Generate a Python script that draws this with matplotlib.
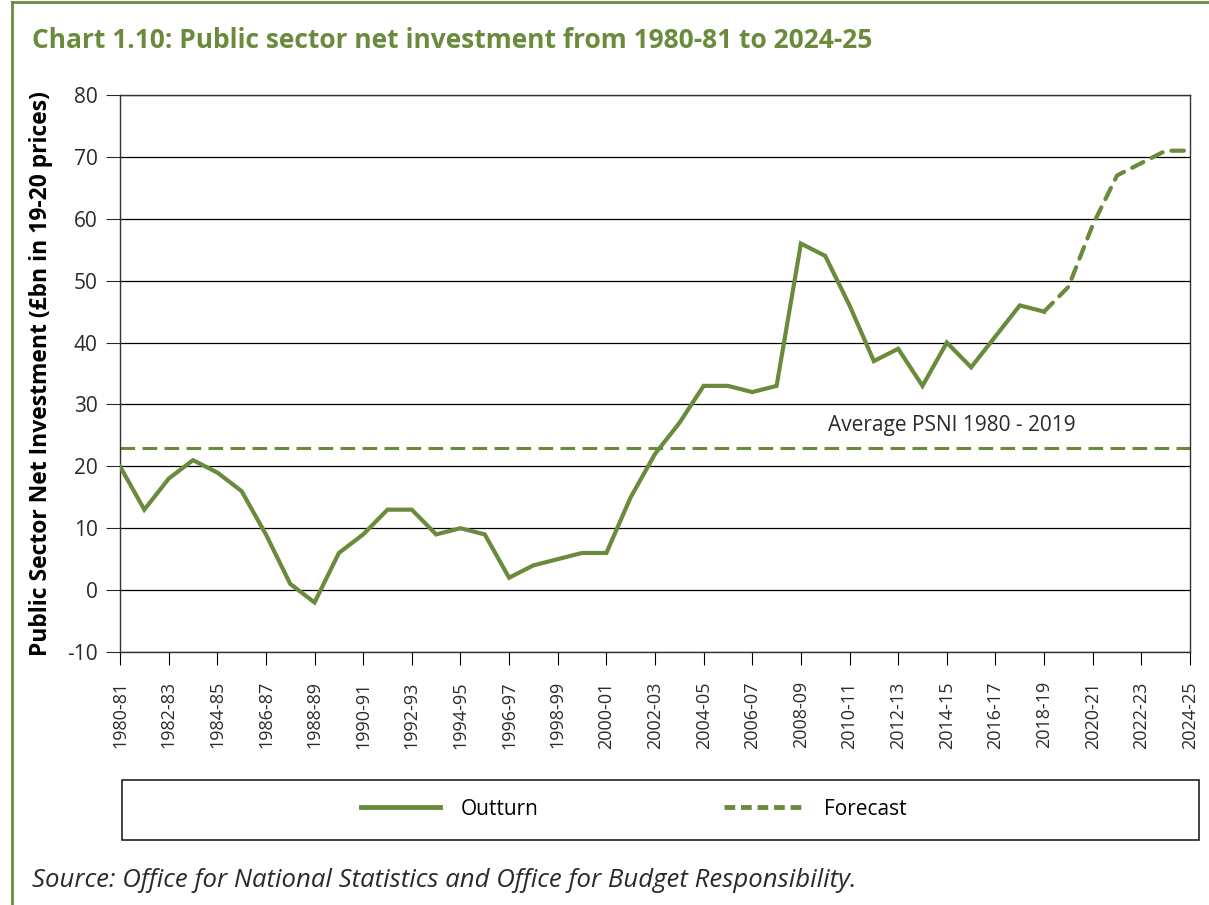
import numpy as np
import matplotlib.pyplot as plt
from matplotlib.patches import Rectangle
from matplotlib.lines import Line2D

# financial years 1980-81 .. 2024-25
years = ["%d-%02d" % (y, (y + 1) % 100) for y in range(1980, 2025)]

outturn = [20, 13, 18, 21, 19, 16, 9, 1, -2, 6, 9, 13, 13, 9, 10, 9, 2, 4, 5, 6,
           6, 15, 22, 27, 33, 33, 32, 33, 56, 54, 46, 37, 39, 33, 40, 36, 41, 46, 45]
forecast = [45, 49, 59, 67, 69, 71, 71]
average_psni = 23

green = "#6a8a3c"
text_col = "#2a2a2a"
plt.rcParams['font.family'] = ['Open Sans', 'DejaVu Sans']
plt.rcParams['axes.unicode_minus'] = False

fig = plt.figure(figsize=(12.09, 9.05), dpi=100)
ax = fig.add_axes([120 / 1209, 1 - 652 / 905, 1070 / 1209, 557 / 905])

x_out = np.arange(len(outturn))
x_fc = np.arange(len(outturn) - 1, len(outturn) - 1 + len(forecast))

ax.plot(x_out, outturn, color=green, lw=3, solid_joinstyle='miter', zorder=3)
ax.plot(x_fc, forecast, color=green, lw=3, dashes=(3.0, 2.2),
        dash_capstyle='round', zorder=3)
ax.plot([0, len(years) - 1], [average_psni, average_psni], color=green, lw=2.2,
        dashes=(4.8, 2.4), zorder=2)
ax.text(34.2, 26.6, "Average PSNI 1980 - 2019", ha='center', va='center',
        fontsize=15, color=text_col)

ax.set_xlim(0, len(years) - 1)
ax.set_ylim(-10, 80)
ax.set_yticks(range(-10, 81, 10))
ax.set_xticks(range(0, len(years), 2))
ax.set_xticklabels(years[::2], rotation=90, fontsize=13, color=text_col)
ax.tick_params(axis='y', labelsize=15, colors=text_col, length=10, pad=6)
ax.tick_params(axis='x', length=9, pad=12)
ax.grid(axis='y', color='black', lw=0.9)
ax.set_axisbelow(True)
for s in ax.spines.values():
    s.set_color('#333333')
    s.set_linewidth(1.0)
ax.set_ylabel("Public Sector Net Investment (£bn in 19-20 prices)",
              fontsize=16.5, fontweight='bold', labelpad=10)

# title and outer frame
fig.text(32 / 1209, 1 - 40 / 905,
         "Chart 1.10: Public sector net investment from 1980-81 to 2024-25",
         fontsize=19, fontweight='bold', color=green, va='center')
fig.add_artist(Line2D([12 / 1209, 1], [1 - 2 / 905, 1 - 2 / 905],
                      color=green, lw=2, transform=fig.transFigure))
fig.add_artist(Line2D([12 / 1209, 12 / 1209], [0, 1 - 2 / 905],
                      color=green, lw=2, transform=fig.transFigure))

# legend box
fig.add_artist(Rectangle((122 / 1209, 1 - 840 / 905), 1077 / 1209, 60 / 905,
                         transform=fig.transFigure, fill=False,
                         edgecolor='#222222', lw=1.2))
handles = [Line2D([], [], color=green, lw=3.5),
           Line2D([], [], color=green, lw=3.5, dashes=(2.2, 1.2))]
fig.legend(handles, ["Outturn", "Forecast"], loc='center',
           bbox_to_anchor=(634 / 1209, 1 - 809 / 905), ncol=2, frameon=False,
           fontsize=15, handlelength=3.8, columnspacing=8.9, handletextpad=1.0)

fig.text(32 / 1209, 1 - 880 / 905,
         "Source: Office for National Statistics and Office for Budget Responsibility.",
         fontsize=18.5, style='italic', color=text_col, va='center')

fig.savefig("out.png", dpi=100)
